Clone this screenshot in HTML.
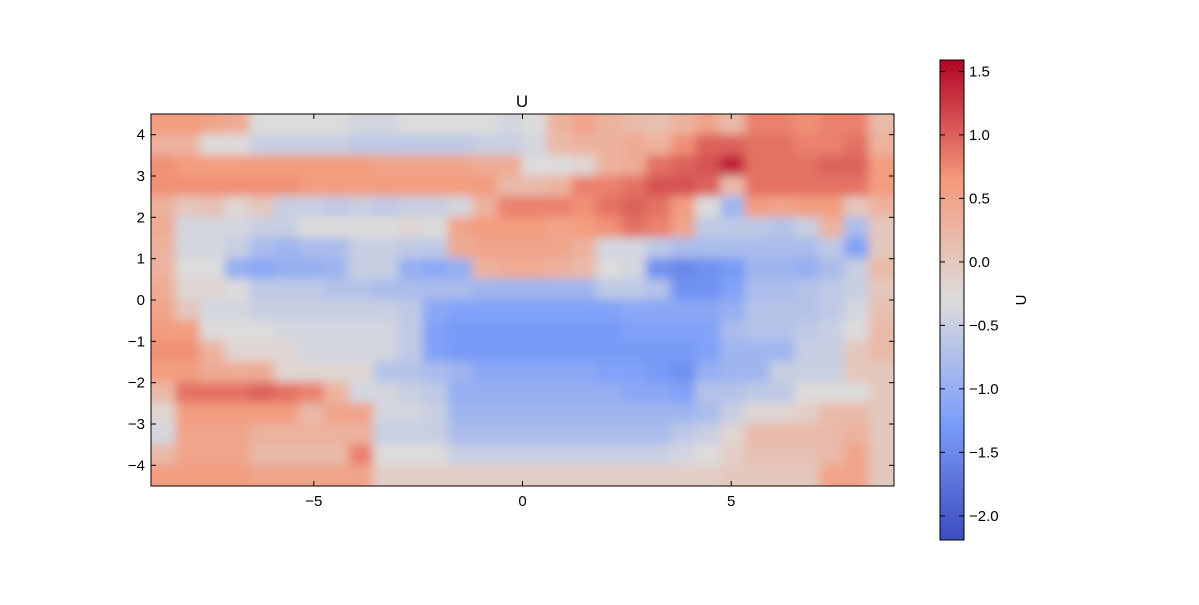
<!DOCTYPE html>
<html><head><meta charset="utf-8"><style>
html,body{margin:0;padding:0;background:#fff;}
svg text{font-family:"Liberation Sans",sans-serif;font-size:15px;fill:#000;}
</style></head><body>
<svg id="chart" width="1199" height="600" xmlns="http://www.w3.org/2000/svg">
<defs>
<clipPath id="plotclip"><rect x="151" y="114" width="743" height="372"/></clipPath>
<filter id="soft" x="-5%" y="-5%" width="110%" height="110%"><feGaussianBlur stdDeviation="5"/></filter>
<linearGradient id="cbgrad" x1="0" y1="1" x2="0" y2="0">
<stop offset="0" stop-color="rgb(59,76,192)"/>
<stop offset="0.25" stop-color="rgb(124,159,249)"/>
<stop offset="0.5" stop-color="rgb(221,220,220)"/>
<stop offset="0.75" stop-color="rgb(244,154,123)"/>
<stop offset="1" stop-color="rgb(180,4,38)"/>
</linearGradient>
</defs>
<g id="cells" clip-path="url(#plotclip)"><g id="cellsInner" filter="url(#soft)"></g></g>
<rect x="151" y="114" width="743" height="372" fill="none" stroke="#000" stroke-width="1"/>
<text x="522" y="107" text-anchor="middle" style="font-size:17px">U</text>
<g id="axes"></g>
<rect x="940" y="60" width="24" height="480" fill="url(#cbgrad)" stroke="#000"/>
<g id="cbticks"></g>
<text x="1026" y="300" text-anchor="middle" transform="rotate(-90 1026 300)">U</text>
</svg>
<script>
const xTicks=[-5,0,5];
const yTicks=[4,3,2,1,0,-1,-2,-3,-4];
const cbTicks=[1.5,1.0,0.5,0.0,-0.5,-1.0,-1.5,-2.0];
const xMin=-8.9,xMax=8.9,yMin=-4.5,yMax=4.5,vMin=-2.19,vMax=1.59;
const row0=[0.6,0.6,0.5,0.4,-0.3,-0.3,-0.3,-0.3,-0.4,-0.4,-0.3,-0.3,-0.3,-0.3,-0.4,-0.3,0.3,0.5,0.3,0.2,0.1,0.3,0.5,0.2,0.8,0.8,0.7,0.8,0.8,0.2];
const row1=[0.3,0.3,-0.3,-0.3,-0.5,-0.5,-0.5,-0.5,-0.6,-0.6,-0.6,-0.6,-0.6,-0.5,-0.5,-0.4,0.2,0.3,0.3,0.4,0.3,0.7,1.0,1.0,0.9,0.9,0.8,0.8,0.9,0.3];
const row2=[0.7,0.6,0.6,0.6,0.6,0.6,0.6,0.6,0.6,0.5,0.5,0.5,0.5,0.4,0.4,-0.3,-0.3,-0.2,0.3,0.4,0.9,1.0,1.1,1.4,0.9,0.9,0.9,1.0,1.0,0.6];
const row3=[0.7,0.7,0.7,0.7,0.7,0.7,0.6,0.6,0.6,0.6,0.6,0.6,0.6,0.6,0.2,0.2,0.3,0.8,0.8,0.9,1.1,1.1,1.0,0.2,0.9,0.9,0.9,0.9,0.9,0.6];
const row4=[0.3,0.0,0.1,-0.2,0.0,-0.5,-0.5,-0.6,-0.5,-0.6,-0.5,-0.5,-0.4,0.3,0.8,0.8,0.8,0.7,0.9,1.0,0.9,0.6,-0.3,-0.9,0.6,0.5,0.6,0.6,0.0,0.3];
const row5=[0.4,-0.4,-0.4,-0.4,-0.5,-0.5,-0.3,-0.3,-0.3,-0.3,-0.2,-0.3,0.5,0.6,0.6,0.6,0.5,0.6,0.7,0.9,0.8,0.5,-0.6,-0.6,-0.6,-0.7,-0.5,0.3,-0.8,0.0];
const row6=[0.3,-0.4,-0.4,-0.5,-0.8,-0.9,-0.8,-0.8,-0.5,-0.5,-0.6,-0.6,0.4,0.5,0.5,0.5,0.5,0.3,-0.4,-0.4,-0.6,-0.8,-0.8,-0.8,-0.8,-0.8,-0.8,-0.6,-1.2,0.0];
const row7=[0.3,-0.3,-0.3,-1.0,-1.1,-1.0,-1.0,-0.9,-0.5,-0.5,-1.0,-1.1,-1.0,0.3,0.4,0.4,0.3,0.2,-0.3,-0.4,-1.4,-1.5,-1.4,-1.3,-0.9,-0.9,-1.0,-0.8,-0.5,0.2];
const row8=[0.4,-0.2,-0.2,-0.3,-0.6,-0.6,-0.6,-0.7,-0.7,-0.8,-0.8,-0.8,-0.8,-0.9,-0.9,-0.9,-0.9,-0.9,-0.6,-0.6,-0.7,-1.4,-1.4,-1.2,-0.8,-0.8,-0.7,-0.6,-0.5,0.0];
const row9=[0.5,0.0,-0.4,-0.4,-0.5,-0.5,-0.5,-0.5,-0.5,-0.5,-0.6,-1.1,-1.2,-1.2,-1.2,-1.2,-1.2,-1.2,-1.2,-1.1,-1.1,-1.1,-1.1,-1.0,-0.7,-0.7,-0.7,-0.6,-0.4,0.1];
const row10=[0.6,0.6,-0.3,-0.3,-0.3,-0.4,-0.4,-0.4,-0.4,-0.4,-0.6,-1.2,-1.3,-1.3,-1.3,-1.3,-1.3,-1.3,-1.3,-1.2,-1.2,-1.2,-1.2,-0.8,-0.7,-0.7,-0.6,-0.5,-0.3,0.2];
const row11=[0.7,0.7,0.3,-0.2,-0.2,-0.2,-0.4,-0.4,-0.4,-0.4,-0.6,-1.2,-1.3,-1.3,-1.3,-1.3,-1.3,-1.3,-1.3,-1.3,-1.3,-1.3,-1.2,-0.9,-0.9,-0.9,-0.5,-0.5,0.0,0.2];
const row12=[0.6,0.6,0.4,0.4,0.4,-0.2,-0.2,-0.2,-0.2,-0.7,-0.7,-0.8,-0.9,-1.1,-1.1,-1.1,-1.1,-1.1,-1.2,-1.2,-1.3,-1.4,-1.0,-0.9,-0.9,-0.5,-0.5,-0.5,0.0,0.0];
const row13=[0.2,0.9,0.9,0.9,1.0,0.9,0.8,0.3,-0.4,-0.4,-0.5,-0.6,-1.0,-1.0,-1.0,-1.0,-1.0,-1.0,-1.0,-1.1,-1.1,-1.2,-0.7,-0.7,-0.6,-0.6,-0.3,-0.3,-0.3,0.0];
const row14=[-0.2,0.6,0.6,0.6,0.6,0.6,0.2,0.5,0.5,-0.4,-0.4,-0.5,-0.9,-0.9,-0.9,-0.9,-0.9,-0.9,-0.9,-0.9,-0.9,-0.9,-0.8,-0.5,-0.2,-0.2,-0.1,0.2,0.2,0.0];
const row15=[-0.4,0.5,0.5,0.5,0.3,0.3,0.3,0.3,0.3,-0.5,-0.5,-0.5,-0.8,-0.8,-0.8,-0.8,-0.8,-0.8,-0.8,-0.8,-0.8,-0.6,-0.5,-0.2,0.2,0.2,0.2,0.2,0.3,0.0];
const row16=[0.2,0.5,0.5,0.5,0.2,0.2,0.2,0.2,0.8,-0.3,-0.3,-0.3,-0.5,-0.5,-0.5,-0.5,-0.5,-0.5,-0.5,-0.5,-0.5,-0.4,-0.3,-0.1,0.1,0.1,0.1,0.2,0.5,0.0];
const row17=[0.6,0.6,0.6,0.6,0.5,0.5,0.5,0.5,0.5,-0.1,-0.1,-0.1,-0.1,-0.1,-0.1,-0.1,-0.1,-0.1,-0.1,-0.1,-0.1,-0.1,-0.1,0.0,0.0,0.0,0.0,0.5,0.5,0.0];
const grid=[row0,row1,row2,row3,row4,row5,row6,row7,row8,row9,row10,row11,row12,row13,row14,row15,row16,row17];

const PX0=151,PX1=894,PY0=114,PY1=486,CBY0=60,CBY1=540;
const xs=v=>PX0+(v-xMin)/(xMax-xMin)*(PX1-PX0);
const ys=v=>PY1-(v-yMin)/(yMax-yMin)*(PY1-PY0);
const cbs=v=>CBY1-(v-vMin)/(vMax-vMin)*(CBY1-CBY0);
const stops=[[0,[59,76,192]],[0.25,[124,159,249]],[0.5,[221,220,220]],[0.75,[244,154,123]],[1,[180,4,38]]];
function cmap(v){let t=(v-vMin)/(vMax-vMin);t=Math.max(0,Math.min(1,t));
 for(let i=1;i<stops.length;i++){if(t<=stops[i][0]){const a=stops[i-1],b=stops[i];const f=(t-a[0])/(b[0]-a[0]);
 return 'rgb('+a[1].map((c,k)=>Math.round(c+(b[1][k]-c)*f)).join(',')+')';}}return 'rgb(180,4,38)';}
const NS='http://www.w3.org/2000/svg';
function mk(tag,attrs,parent){const e=document.createElementNS(NS,tag);for(const k in attrs)e.setAttribute(k,attrs[k]);parent.appendChild(e);return e;}
const inner=document.getElementById('cellsInner');
const nr=grid.length,nc=grid[0].length;
const dx=(xMax-xMin)/nc,dy=(yMax-yMin)/nr;
grid.forEach((row,r)=>row.forEach((v,c)=>{
 const x0=xs(xMin+c*dx),x1=xs(xMin+(c+1)*dx),y0=ys(yMax-r*dy),y1=ys(yMax-(r+1)*dy);
 const pad=(c===0||c===nc-1||r===0||r===nr-1)?12:0;
 const e=mk('rect',{x:x0-(c===0?pad:0)-0.5,y:y0-(r===0?pad:0)-0.5,width:x1-x0+1+(c===0||c===nc-1?pad:0),height:y1-y0+1+(r===0||r===nr-1?pad:0),fill:cmap(v)},inner);
 
 
}));
const axes=document.getElementById('axes');
const fmt=v=>(v<0?'\u2212':'')+Math.abs(v);
xTicks.forEach(v=>{const x=xs(v);
 mk('line',{x1:x,x2:x,y1:PY1,y2:PY1-5,stroke:'#000'},axes);
 mk('line',{x1:x,x2:x,y1:PY0,y2:PY0+5,stroke:'#000'},axes);
 const t=mk('text',{x:x,y:PY1+20,'text-anchor':'middle'},axes);t.textContent=fmt(v);
 
 
});
yTicks.forEach(v=>{const y=ys(v);
 mk('line',{x1:PX0,x2:PX0+5,y1:y,y2:y,stroke:'#000'},axes);
 mk('line',{x1:PX1,x2:PX1-5,y1:y,y2:y,stroke:'#000'},axes);
 const t=mk('text',{x:PX0-6,y:y+5,'text-anchor':'end'},axes);t.textContent=fmt(v);
 
 
});
const cbg=document.getElementById('cbticks');
cbTicks.forEach(v=>{const y=cbs(v);
 mk('line',{x1:940,x2:945,y1:y,y2:y,stroke:'#000'},cbg);
 mk('line',{x1:964,x2:959,y1:y,y2:y,stroke:'#000'},cbg);
 const t=mk('text',{x:969,y:y+5},cbg);t.textContent=(v<0?'\u2212':'')+Math.abs(v).toFixed(1);
 
 
});
</script>
</body></html>
